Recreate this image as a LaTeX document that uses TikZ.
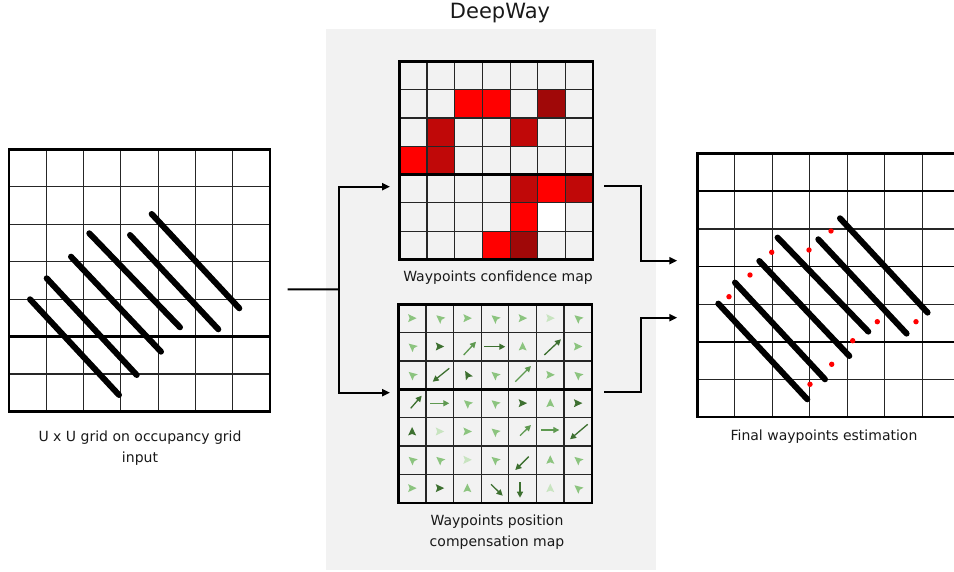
\documentclass[tikz,border=0pt]{standalone}
\usepackage{fontspec}
\setmainfont{DejaVu Sans}
\usetikzlibrary{arrows.meta}

\definecolor{panelgray}{HTML}{F2F2F2}
\definecolor{confred}{HTML}{FF0000}
\definecolor{confmid}{HTML}{C00808}
\definecolor{confdark}{HTML}{A00808}
\definecolor{compdark}{HTML}{3D7030}
\definecolor{compmid}{HTML}{5E9950}
\definecolor{complight}{HTML}{8CC47F}
\definecolor{compfaint}{HTML}{C8E4C0}

\tikzset{
  gridbox/.style={draw=none, inner sep=0pt, anchor=north west},
  gridline/.style={step=1, line width=1.2pt, black!85},
  gridframe/.style={line width=2.4pt, black},
  plantrow/.style={line width=6pt, line cap=round, black},
  flow/.style={line width=2pt, black},
  flowarrow/.style={flow, -{Triangle[length=8pt,width=7pt]}},
  comparrow/.style={line width=1.3pt, -{Triangle[length=6pt,width=6pt]}},
  maptext/.style={font=\fontsize{14}{21}\selectfont, align=center, text=black!90},
}

% diagonal rows on the occupancy grid, pixel offsets from the north west corner
\newcommand\plantrows{%
  \draw[plantrow] (21,150.3) -- (110,246);
  \draw[plantrow] (37.7,129.3) -- (127.7,226);
  \draw[plantrow] (62,107.7) -- (152,202.7);
  \draw[plantrow] (80.3,84.3) -- (171,178.3);
  \draw[plantrow] (121,86) -- (209.3,180.3);
  \draw[plantrow] (142.7,65) -- (230.3,159.3);
}

\begin{document}
\begin{tikzpicture}[x=1pt, y=-1pt]
  \useasboundingbox (0,0) rectangle (954,572);

  % DeepWay panel
  \fill[panelgray] (326,29) rectangle (655.7,570);
  \node[font=\fontsize{21}{25}\selectfont, text=black!90] (title) at (500,13) {DeepWay};

  % Grid boxes
  \node[gridbox, minimum width=261pt, minimum height=262pt] (input) at (9,149) {};
  \node[gridbox, minimum width=194pt, minimum height=198pt] (conf) at (399.3,61) {};
  \node[gridbox, minimum width=193.4pt, minimum height=198.3pt] (comp) at (398.3,304) {};
  \node[gridbox, minimum width=262.5pt, minimum height=263.4pt] (output) at (697.3,153.3) {};

  % Input grid
  \begin{scope}[shift={(input.south west)}, x=37.29pt, y=37.43pt]
    \draw[gridline] (0,0) grid (7,7);
    \draw[gridframe] (0,2) -- (7,2);
    \draw[gridframe] (0,0) rectangle (7,7);
  \end{scope}
  \begin{scope}[shift={(input.north west)}]
    \plantrows
  \end{scope}

  % Confidence map
  \begin{scope}[shift={(conf.south west)}, x=27.71pt, y=28.29pt]
    \foreach \c/\r/\col in {3/2/confred, 4/2/confred, 6/2/confdark,
                            2/3/confmid, 5/3/confmid,
                            1/4/confred, 2/4/confmid,
                            5/5/confmid, 6/5/confred, 7/5/confmid,
                            5/6/confred, 6/6/white,
                            4/7/confred, 5/7/confdark}
      \fill[\col] (\c-1,7-\r) rectangle (\c,8-\r);
    \draw[gridline] (0,0) grid (7,7);
    \draw[gridframe] (0,3) -- (7,3);
    \draw[gridframe] (0,0) rectangle (7,7);
  \end{scope}
  \node[maptext] (conftext) at (498,278) {Waypoints confidence map};

  % Compensation map
  \begin{scope}[shift={(comp.south west)}, x=27.63pt, y=28.33pt]
    \draw[gridline] (0,0) grid (7,7);
    \draw[gridframe] (0,4) -- (7,4);
    \draw[gridframe] (0,0) rectangle (7,7);
  \end{scope}
  \begin{scope}[shift={(comp.north west)}]
    \foreach \c/\r/\a/\col in {1/1/0/complight, 2/1/140/complight, 3/1/0/complight, 4/1/140/complight,
                               5/1/0/complight, 6/1/0/compfaint, 7/1/140/complight,
                               1/2/140/complight, 2/2/0/compdark, 5/2/90/complight, 7/2/0/complight,
                               1/3/140/complight, 3/3/120/compdark, 4/3/140/complight, 6/3/0/complight, 7/3/140/complight,
                               3/4/140/complight, 4/4/140/complight, 5/4/0/compdark, 6/4/90/complight, 7/4/0/compdark,
                               1/5/90/compdark, 2/5/0/compfaint, 3/5/0/complight, 4/5/140/complight,
                               1/6/140/complight, 2/6/140/complight, 3/6/0/compfaint, 4/6/140/complight,
                               6/6/90/complight, 7/6/140/complight,
                               1/7/0/complight, 2/7/0/compdark, 3/7/90/complight, 6/7/90/compfaint, 7/7/140/complight}
      \fill[\col, shift={({(\c-0.5)*27.63},{(\r-0.5)*28.33})}, rotate=\a]
        (4.5,0) -- (-4,4) -- (-2.5,0) -- (-4,-4) -- cycle;
  \end{scope}
  % Row 2
  \draw[comparrow, compmid] (463.7,355) -- (476,341.7);
  \draw[comparrow, compdark] (484.3,346.7) -- (505.3,346.7);
  \draw[comparrow, compdark] (544.3,355) -- (561,339.3);
  % Row 3
  \draw[comparrow, compdark] (449.3,368.3) -- (432.7,381.7);
  \draw[comparrow, compmid] (515.3,381.7) -- (531,366);
  % Row 4
  \draw[comparrow, compdark] (410.7,408.3) -- (421.7,395.7);
  \draw[comparrow, compmid] (430.3,403.3) -- (449.3,403.3);
  % Row 5
  \draw[comparrow, compmid] (520,435.7) -- (531,425);
  \draw[comparrow, compmid] (541,430) -- (559.3,430);
  \draw[comparrow, compdark] (587.7,424.3) -- (570,439.3);
  % Row 6
  \draw[comparrow, compdark] (528.7,456.7) -- (515.3,470);
  % Row 7
  \draw[comparrow, compdark] (491,484.3) -- (502.7,495.7);
  \draw[comparrow, compdark] (520,482.3) -- (520,497.7);
  \node[maptext] (comptext) at (497,532) {Waypoints position\\compensation map};

  % Output grid
  \begin{scope}[shift={(output.south west)}, x=37.5pt, y=37.63pt]
    \draw[gridline] (0,0) grid (7,7);
    \foreach \k in {2,4,6}
      \draw[line width=1.8pt] (0,\k) -- (7,\k);
    \draw[gridframe] (0,0) rectangle (7,7);
  \end{scope}
  \begin{scope}[shift={(output.north west)}]
    \plantrows
  \end{scope}
  \foreach \p in {(831,231), (809,250), (771.7,252.3), (750,275), (729,296.7),
                  (877.3,321.7), (916,321.7), (852.7,340.7), (831.7,364.3), (810,384.3)}
    \fill[red] \p circle (2.7);

  \node[maptext] (intext) at (140,448) {U x U grid on occupancy grid\\input};
  \node[maptext] (outtext) at (824,437) {Final waypoints estimation};

  % Connectors
  \coordinate (fork) at (339,289.3);
  \coordinate (confin) at (390,186.7);
  \coordinate (compin) at (390,392.7);
  \coordinate (outtop) at (677.3,260.7);
  \coordinate (outbot) at (677.3,317.7);
  \draw[flow] (input.east) ++(17.3,9.3) -- (fork);
  \draw[flowarrow] (fork) |- (confin);
  \draw[flowarrow] (fork) |- (compin);
  \draw[flowarrow] (conf.east) ++(10.7,26) -- ++(37,0) |- (outtop);
  \draw[flowarrow] (comp.east) ++(12.3,-11.5) -- ++(36.7,0) |- (outbot);
\end{tikzpicture}
\end{document}
